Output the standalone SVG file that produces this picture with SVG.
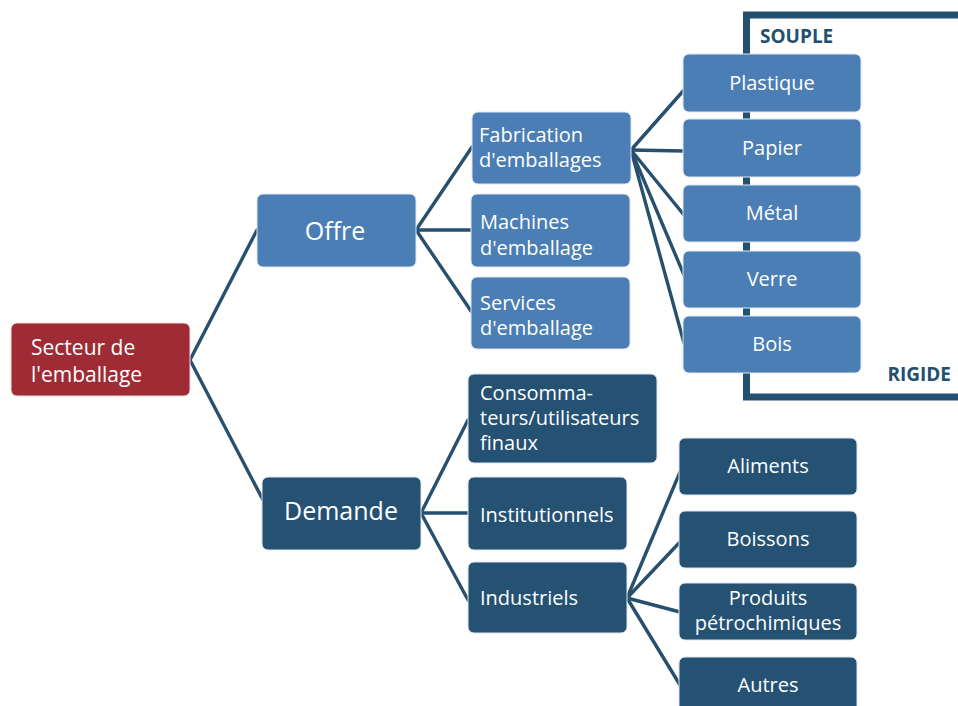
<svg xmlns="http://www.w3.org/2000/svg" width="958" height="706" viewBox="0 0 958 706">
<style>
  .lb { fill: #4a7eb4; stroke: #dfe8f2; stroke-width: 1; }
  .db { fill: #255173; stroke: #dfe6ee; stroke-width: 1; }
  .rb { fill: #9f2b35; stroke: #f0dcdc; stroke-width: 1; }
  .t { font-family: "Open Sans", "Noto Sans", sans-serif; font-size: 20px; fill: #ffffff; }
  .s21 { font-size: 21px; }
  .big { font-size: 25px; }
  .c { text-anchor: middle; }
  .lbl { font-family: "Open Sans", "Noto Sans", sans-serif; font-size: 19px; font-weight: bold; fill: #24506f; }
  .con line { stroke: #27506f; stroke-width: 3.4; stroke-linecap: round; }
</style>
<rect width="958" height="706" fill="#ffffff"/>
<g id="bracket">
  <polyline points="958,15 746.5,15 746.5,397 958,397" fill="none" stroke="#24506f" stroke-width="7"/>
</g>
<g id="connectors" class="con">
  <line x1="190" y1="360" x2="257" y2="230"/>
  <line x1="190" y1="360" x2="263" y2="500"/>
  <line x1="416" y1="230" x2="472" y2="147"/>
  <line x1="416" y1="230" x2="471" y2="230"/>
  <line x1="416" y1="230" x2="471" y2="311"/>
  <line x1="631" y1="150" x2="684" y2="90"/>
  <line x1="631" y1="150" x2="684" y2="151"/>
  <line x1="631" y1="150" x2="684" y2="215"/>
  <line x1="631" y1="150" x2="684" y2="275"/>
  <line x1="631" y1="150" x2="684" y2="343"/>
  <line x1="421" y1="513" x2="468" y2="420"/>
  <line x1="421" y1="513" x2="468" y2="513"/>
  <line x1="421" y1="513" x2="468" y2="600"/>
  <line x1="627" y1="598" x2="680" y2="472"/>
  <line x1="627" y1="598" x2="680" y2="542"/>
  <line x1="627" y1="598" x2="680" y2="612"/>
  <line x1="627" y1="598" x2="680" y2="685"/>
</g>
<g id="lbl-souple"><text class="lbl" x="760" y="43">SOUPLE</text></g>
<g id="lbl-rigide"><text class="lbl" x="951" y="381" text-anchor="end">RIGIDE</text></g>

<g id="secteur">
  <rect class="rb" x="11" y="323" width="179" height="73" rx="6"/>
  <text class="t s21" x="31" y="355">Secteur de</text>
  <text class="t s21" x="31" y="382">l'emballage</text>
</g>
<g id="offre">
  <rect class="lb" x="257" y="194" width="159" height="73" rx="6"/>
  <text class="t big c" x="335" y="240">Offre</text>
</g>
<g id="demande">
  <rect class="db" x="262" y="477" width="159" height="73" rx="6"/>
  <text class="t big c" x="341" y="520">Demande</text>
</g>
<g id="fabrication">
  <rect class="lb" x="472" y="112" width="159" height="72" rx="6"/>
  <text class="t" x="479" y="142">Fabrication</text>
  <text class="t" x="479" y="167">d'emballages</text>
</g>
<g id="machines">
  <rect class="lb" x="471" y="194" width="159" height="73" rx="6"/>
  <text class="t" x="480" y="229">Machines</text>
  <text class="t" x="480" y="255">d'emballage</text>
</g>
<g id="services">
  <rect class="lb" x="471" y="277" width="159" height="72" rx="6"/>
  <text class="t" x="480" y="310">Services</text>
  <text class="t" x="480" y="335">d'emballage</text>
</g>
<g id="plastique">
  <rect class="lb" x="683" y="54" width="178" height="58" rx="6"/>
  <text class="t c" x="772" y="90">Plastique</text>
</g>
<g id="papier">
  <rect class="lb" x="683" y="119" width="178" height="58" rx="6"/>
  <text class="t c" x="772" y="155">Papier</text>
</g>
<g id="metal">
  <rect class="lb" x="683" y="185" width="178" height="57" rx="6"/>
  <text class="t c" x="772" y="220">Métal</text>
</g>
<g id="verre">
  <rect class="lb" x="683" y="251" width="178" height="57" rx="6"/>
  <text class="t c" x="772" y="286">Verre</text>
</g>
<g id="bois">
  <rect class="lb" x="683" y="316" width="178" height="57" rx="6"/>
  <text class="t c" x="772" y="351">Bois</text>
</g>
<g id="consommateurs">
  <rect class="db" x="468" y="374" width="189" height="89" rx="6"/>
  <text class="t" x="480" y="400">Consomma-</text>
  <text class="t" x="480" y="425">teurs/utilisateurs</text>
  <text class="t" x="480" y="450">finaux</text>
</g>
<g id="institutionnels">
  <rect class="db" x="468" y="477" width="159" height="73" rx="6"/>
  <text class="t" x="480" y="522">Institutionnels</text>
</g>
<g id="industriels">
  <rect class="db" x="468" y="562" width="159" height="71" rx="6"/>
  <text class="t" x="480" y="605">Industriels</text>
</g>
<g id="aliments">
  <rect class="db" x="679" y="438" width="178" height="57" rx="6"/>
  <text class="t c" x="768" y="473">Aliments</text>
</g>
<g id="boissons">
  <rect class="db" x="679" y="511" width="178" height="57" rx="6"/>
  <text class="t c" x="768" y="546">Boissons</text>
</g>
<g id="produits">
  <rect class="db" x="679" y="583" width="178" height="57" rx="6"/>
  <text class="t c" x="768" y="605">Produits</text>
  <text class="t c" x="768" y="630">pétrochimiques</text>
</g>
<g id="autres">
  <rect class="db" x="679" y="657" width="178" height="60" rx="6"/>
  <text class="t c" x="768" y="692">Autres</text>
</g>
</svg>
